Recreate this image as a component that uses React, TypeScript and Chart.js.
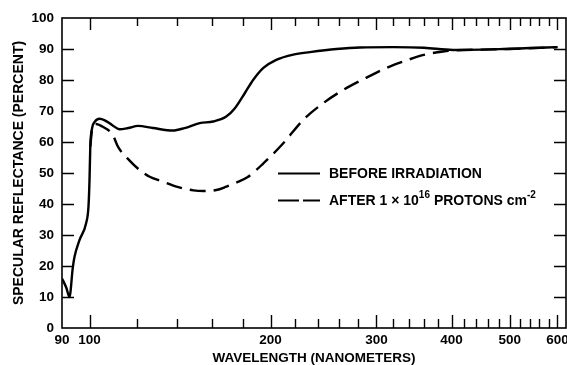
import React, { useEffect, useRef } from 'react';
import { Chart, registerables } from 'chart.js';

Chart.register(...registerables);

// ---- data ----
const beforeWavelength = [90, 91.5, 92.6, 93.8, 94.4, 96.2, 98.7, 99.6, 100, 100.3, 101, 102, 103.9, 106, 109, 112.2, 116, 120.4, 127.5, 137.6, 143.9, 152.5, 160.5, 168.8, 174.5, 181.3, 187.1, 194.6, 204.4, 218.2, 232.6, 257.5, 281.8, 320, 360, 402, 450, 488, 540, 600];
const beforeReflectance = [16, 13, 10, 19.5, 22.9, 28.3, 33.8, 39.1, 47.7, 58.5, 64.5, 66.5, 67.5, 67, 65.5, 64.1, 64.5, 65.2, 64.5, 63.7, 64.5, 66.1, 66.6, 68.2, 70.9, 75.8, 80, 83.9, 86.5, 88.2, 89, 90, 90.5, 90.6, 90.4, 89.7, 89.8, 90, 90.3, 90.6];

const afterWavelength = [100.3, 101, 102.6, 105, 109.3, 111.5, 116.6, 121.1, 125.9, 132.5, 139.5, 148.8, 155, 162.5, 168.9, 175, 183, 194.6, 210, 226.6, 244.6, 264.2, 285.6, 308.3, 333, 359.5, 387.5, 408, 450, 500, 600];
const afterReflectance = [58.5, 64, 65.8, 65, 62.3, 58.5, 54, 51, 48.8, 47.2, 45.6, 44.4, 44.2, 44.5, 45.6, 46.8, 48.6, 53.1, 59.6, 67.1, 72.5, 76.8, 80.3, 83.5, 86, 88.1, 89.2, 89.6, 89.8, 90, 90.6];

const xLabeledTicks = [90, 100, 200, 300, 400, 500, 600];
const xMinorTicks = [120, 140, 160, 180, 220, 240, 260, 280, 320, 340, 360, 380, 420, 440, 460, 480, 520, 540, 560, 580];
const yTickValues = [0, 10, 20, 30, 40, 50, 60, 70, 80, 90, 100];

const xTitle = 'WAVELENGTH (NANOMETERS)';
const yTitle = 'SPECULAR REFLECTANCE (PERCENT)';
const legendBefore = 'BEFORE IRRADIATION';
const legendAfterParts = [
  { text: 'AFTER 1 × 10', sup: false },
  { text: '16', sup: true },
  { text: ' PROTONS cm', sup: false },
  { text: '-2', sup: true },
];

const FAMILY = '"Liberation Sans", Arial, Helvetica, sans-serif';
const WEIGHT = 'bold';

const framePlugin = {
  id: 'frameTicks',
  afterDatasetsDraw(chart: any) {
    const { ctx, chartArea: a, scales } = chart;
    const xs = scales.x;
    const ys = scales.y;
    ctx.save();
    ctx.strokeStyle = '#000';
    ctx.lineWidth = 1.6;
    ctx.strokeRect(a.left, a.top, a.right - a.left, a.bottom - a.top);
    ctx.lineWidth = 1.4;
    ctx.beginPath();
    const drawX = (v: number, len: number) => {
      const px = Math.round(xs.getPixelForValue(v)) + 0.5;
      if (px <= a.left + 2 || px >= a.right - 1) return;
      ctx.moveTo(px, a.bottom);
      ctx.lineTo(px, a.bottom - len);
      ctx.moveTo(px, a.top);
      ctx.lineTo(px, a.top + len - 1);
    };
    xLabeledTicks.forEach((v) => drawX(v, 13));
    xMinorTicks.forEach((v) => drawX(v, 9));
    yTickValues.forEach((v) => {
      const py = Math.round(ys.getPixelForValue(v)) + 0.5;
      if (py <= a.top + 2 || py >= a.bottom - 2) return;
      ctx.moveTo(a.left, py);
      ctx.lineTo(a.left + 12, py);
      ctx.moveTo(a.right, py);
      ctx.lineTo(a.right - 12, py);
    });
    ctx.stroke();

    // legend
    ctx.fillStyle = '#000';
    ctx.textBaseline = 'middle';
    ctx.textAlign = 'left';
    ctx.lineWidth = 2;
    ctx.setLineDash([]);
    ctx.beginPath();
    ctx.moveTo(278, 173.5);
    ctx.lineTo(320, 173.5);
    ctx.moveTo(278, 200.5);
    ctx.lineTo(299, 200.5);
    ctx.moveTo(303, 200.5);
    ctx.lineTo(320, 200.5);
    ctx.stroke();
    ctx.font = `${WEIGHT} 14px ${FAMILY}`;
    ctx.fillText(legendBefore, 329, 174.5);
    let cx = 329;
    legendAfterParts.forEach((p) => {
      if (p.sup) {
        ctx.font = `${WEIGHT} 10px ${FAMILY}`;
        ctx.fillText(p.text, cx, 195.5);
      } else {
        ctx.font = `${WEIGHT} 14px ${FAMILY}`;
        ctx.fillText(p.text, cx, 201);
      }
      cx += ctx.measureText(p.text).width;
    });
    ctx.restore();
  },
};

export default function App() {
  const ref = useRef<HTMLCanvasElement | null>(null);
  useEffect(() => {
    if (!ref.current) return;
    const tickFont = { family: FAMILY, size: 13.5, weight: WEIGHT as any, lineHeight: 1 };
    const xTitleFont = { family: FAMILY, size: 13.5, weight: WEIGHT as any, lineHeight: 1 };
    const yTitleFont = { family: FAMILY, size: 14, weight: WEIGHT as any, lineHeight: 1 };
    const chart = new Chart(ref.current, {
      type: 'line',
      data: {
        datasets: [
          {
            label: legendBefore,
            data: beforeWavelength.map((w, i) => ({ x: w, y: beforeReflectance[i] })),
            borderColor: '#000',
            borderWidth: 2.4,
            pointRadius: 0,
            fill: false,
            cubicInterpolationMode: 'monotone',
          },
          {
            label: 'AFTER',
            data: afterWavelength.map((w, i) => ({ x: w, y: afterReflectance[i] })),
            borderColor: '#000',
            borderWidth: 2.4,
            borderDash: [16, 8],
            pointRadius: 0,
            fill: false,
            cubicInterpolationMode: 'monotone',
          },
        ],
      },
      options: {
        responsive: false,
        animation: false,
        layout: { padding: { top: 18, right: 1, left: 0, bottom: 0 } },
        plugins: { legend: { display: false }, tooltip: { enabled: false } },
        scales: {
          x: {
            type: 'logarithmic',
            min: 90,
            max: 620,
            grid: { display: false, drawTicks: false, tickLength: 0 },
            border: { display: false },
            afterBuildTicks: (s: any) => {
              s.ticks = xLabeledTicks.map((v) => ({ value: v }));
            },
            afterFit: (s: any) => {
              s.height = 37;
              s.paddingLeft = 0;
              s.paddingRight = 0;
            },
            ticks: {
              autoSkip: false,
              maxRotation: 0,
              padding: 6,
              color: '#000',
              font: tickFont,
              callback: (v: any) => String(v),
            },
            title: { display: true, text: xTitle, color: '#000', font: xTitleFont, padding: { top: 0, bottom: 0 } },
          },
          y: {
            type: 'linear',
            min: 0,
            max: 100,
            grid: { display: false, drawTicks: false, tickLength: 0 },
            border: { display: false },
            afterBuildTicks: (s: any) => {
              s.ticks = yTickValues.map((v) => ({ value: v }));
            },
            afterFit: (s: any) => {
              s.width = 62;
              s.paddingTop = 0;
              s.paddingBottom = 0;
            },
            ticks: { padding: 8, color: '#000', font: tickFont, autoSkip: false },
            title: { display: true, text: yTitle, color: '#000', font: yTitleFont, padding: { top: 12, bottom: 0 } },
          },
        },
      },
      plugins: [framePlugin],
    } as any);
    return () => chart.destroy();
  }, []);
  return (
    <div style={{ position: 'absolute', left: 0, top: 0, width: 567, height: 365, background: '#fff' }}>
      <canvas ref={ref} width={567} height={365} style={{ display: 'block' }} />
    </div>
  );
}
